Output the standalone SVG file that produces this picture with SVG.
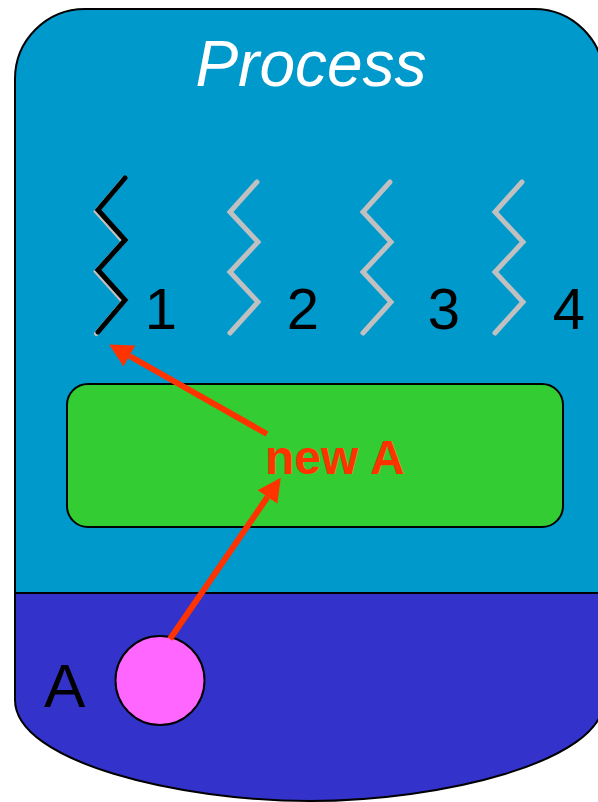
<svg xmlns="http://www.w3.org/2000/svg" width="598" height="802" viewBox="0 0 598 802">
<style>
.thread{fill:none;stroke-width:5;stroke-linecap:round;stroke-linejoin:miter}
.gray{stroke:#C0C0C0}
.num{font-family:"Liberation Sans",Arial,sans-serif;font-size:58px;fill:#000;text-anchor:middle}
.arrow{stroke:#FF3300;stroke-width:6;fill:none}
</style>
<defs>
<marker id="ah" markerUnits="userSpaceOnUse" markerWidth="24" markerHeight="26" viewBox="0 -12 23 24" refX="0" refY="0" orient="auto">
<path d="M0,-11.5 L22.5,0 L0,11.5 Z" fill="#FF3300"/>
</marker>
</defs>
<rect width="598" height="802" fill="#fff"/>
<g id="process">
<path d="M15,593 V79 A70,70 0 0 1 85,9 H534 A70,70 0 0 1 604,79 V593 Z" fill="#0099CC" stroke="#000" stroke-width="2"/>
<path d="M15,593 H604 V700 C604,762 440,801 310,801 C180,801 15,762 15,700 Z" fill="#3333CC" stroke="#000" stroke-width="2"/>
<text x="311" y="86" font-family="Liberation Sans,Arial,sans-serif" font-size="64" font-style="italic" fill="#fff" text-anchor="middle">Process</text>
</g>
<g id="thread1">
<polyline class="thread gray" points="123.5,179.5 96.5,211.5 123.5,241.5 96.5,271.5 123.5,301.5 96.5,333.5"/>
<polyline class="thread" stroke="#000" points="125,178 98,210 125,240 98,270 125,300 98,332"/>
<text class="num" x="161" y="329">1</text>
</g>
<g id="thread2">
<polyline class="thread gray" points="257,182 230,212 258,242 230,272 258,302 230,333"/>
<text class="num" x="303" y="329">2</text>
</g>
<g id="thread3">
<polyline class="thread gray" points="390,182 363,212 391,242 363,272 391,302 363,333"/>
<text class="num" x="444" y="329">3</text>
</g>
<g id="thread4">
<polyline class="thread gray" points="522,182 495,212 523,242 495,272 523,302 495,333"/>
<text class="num" x="569" y="329">4</text>
</g>
<g id="heap">
<rect x="67" y="384" width="496" height="143" rx="21" ry="21" fill="#33CC33" stroke="#000" stroke-width="2"/>
<text x="265" y="474" font-family="Liberation Sans,Arial,sans-serif" font-size="48" font-weight="bold" fill="#FF3300">new A</text>
</g>
<g id="objectA">
<circle cx="160" cy="680.5" r="44.5" fill="#FF66FF" stroke="#000" stroke-width="2"/>
<text x="44" y="707" font-family="Liberation Sans,Arial,sans-serif" font-size="62" fill="#000">A</text>
</g>
<g id="connectors">
<line class="arrow" x1="267" y1="434" x2="129.5" y2="356" marker-end="url(#ah)"/>
<line class="arrow" x1="170" y1="639" x2="267.5" y2="497" marker-end="url(#ah)"/>
</g>
</svg>
